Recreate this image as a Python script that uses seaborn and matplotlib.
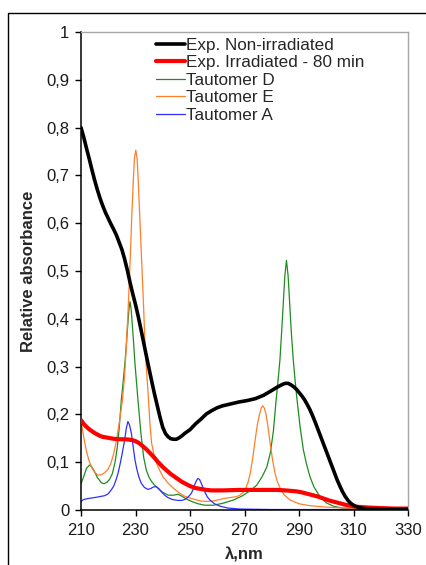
import pandas as pd
import matplotlib
matplotlib.use("Agg")
import matplotlib.pyplot as plt
import seaborn as sns
from matplotlib.patches import Rectangle
from matplotlib.ticker import FuncFormatter

# data (wavelength nm, relative absorbance)
nonirr_x = [210, 211, 212, 213, 214, 215, 216, 217, 218, 219, 220, 221, 222, 223, 224, 225, 226, 227,
            228, 229, 230, 231, 232, 233, 234, 235, 236, 237, 238, 239, 240, 241, 242, 243, 244, 245,
            246, 247, 248, 249, 250, 252, 254, 256, 258, 260, 262, 265, 268, 271, 274, 277, 280, 282,
            284, 285, 286, 287, 288, 289, 290, 291, 292, 293, 294, 295, 296, 297, 298, 299, 300, 301,
            302, 303, 304, 305, 306, 307, 308, 309, 310, 311, 312, 314, 317, 320, 330]
nonirr_y = [0.80, 0.78, 0.757, 0.735, 0.712, 0.69, 0.67, 0.652, 0.636, 0.622, 0.61, 0.598, 0.587, 0.575,
            0.56, 0.545, 0.525, 0.502, 0.476, 0.452, 0.43, 0.405, 0.378, 0.35, 0.322, 0.295, 0.268,
            0.242, 0.218, 0.194, 0.173, 0.16, 0.153, 0.149, 0.148, 0.148, 0.151, 0.155, 0.16, 0.164,
            0.168, 0.18, 0.19, 0.201, 0.208, 0.214, 0.218, 0.222, 0.226, 0.229, 0.233, 0.24, 0.25, 0.257,
            0.263, 0.265, 0.265, 0.262, 0.258, 0.253, 0.246, 0.239, 0.231, 0.221, 0.21, 0.197, 0.183,
            0.168, 0.153, 0.138, 0.123, 0.108, 0.093, 0.078, 0.063, 0.05, 0.038, 0.028, 0.02, 0.014,
            0.01, 0.007, 0.005, 0.003, 0.002, 0.001, 0.001]

irr_x = [210, 211, 212, 213, 214, 215, 216, 217, 218, 220, 222, 224, 226, 228, 229, 230, 231, 232, 233,
         234, 235, 236, 237, 238, 239, 240, 241, 242, 243, 244, 245, 246, 247, 248, 249, 250, 251, 252,
         253, 254, 256, 258, 262, 268, 275, 282, 285, 287, 289, 291, 293, 295, 297, 299, 301, 303, 305,
         307, 309, 311, 313, 316, 320, 325, 330]
irr_y = [0.188, 0.18, 0.174, 0.169, 0.165, 0.161, 0.158, 0.155, 0.153, 0.151, 0.149, 0.148, 0.148, 0.147,
         0.146, 0.144, 0.141, 0.137, 0.132, 0.127, 0.121, 0.115, 0.109, 0.102, 0.096, 0.09, 0.085, 0.08,
         0.075, 0.071, 0.067, 0.063, 0.059, 0.056, 0.053, 0.05, 0.048, 0.046, 0.045, 0.044, 0.042, 0.041,
         0.041, 0.042, 0.042, 0.042, 0.041, 0.04, 0.039, 0.037, 0.034, 0.031, 0.028, 0.024, 0.02, 0.017,
         0.014, 0.011, 0.009, 0.007, 0.006, 0.005, 0.004, 0.003, 0.003]

taut_d_x = [210, 211, 212, 213.1, 214, 215, 216, 217.5, 218.5, 219.5, 220.5, 221.5, 222.5, 223.3, 224,
            224.8, 225.5, 226.1, 226.7, 227.2, 227.6, 228, 228.4, 228.8, 229.3, 229.8, 230.9, 232, 233,
            234, 235, 236, 237, 238.5, 240, 242, 244, 245.6, 247, 249, 251, 253, 255.4, 258.6, 262, 266,
            269, 272, 274.5, 276.5, 278.2, 279.5, 280.6, 281.6, 282.3, 283, 283.6, 284.2, 284.8, 285.4,
            286, 286.6, 287.2, 287.9, 288.5, 289.1, 290.4, 291.6, 292.8, 294, 295.5, 297.7, 300, 302.6,
            306, 310, 320, 330]
taut_d_y = [0.055, 0.07, 0.087, 0.094, 0.09, 0.08, 0.068, 0.057, 0.055, 0.058, 0.064, 0.076, 0.1, 0.13,
            0.17, 0.23, 0.27, 0.307, 0.35, 0.39, 0.42, 0.436, 0.42, 0.39, 0.35, 0.307, 0.23, 0.16, 0.11,
            0.083, 0.068, 0.059, 0.052, 0.044, 0.037, 0.031, 0.031, 0.033, 0.029, 0.022, 0.017, 0.013,
            0.01, 0.01, 0.014, 0.021, 0.029, 0.04, 0.052, 0.07, 0.09, 0.12, 0.165, 0.23, 0.27, 0.314,
            0.37, 0.43, 0.49, 0.522, 0.49, 0.43, 0.37, 0.314, 0.275, 0.24, 0.174, 0.126, 0.095, 0.07,
            0.048, 0.028, 0.015, 0.008, 0.004, 0.003, 0.002, 0.002]

taut_e_x = [210, 211, 212, 213, 214, 215, 216.2, 217.5, 218.7, 219.9, 221, 222, 223, 224.2, 225.2, 226,
            226.5, 227.3, 228, 228.6, 229.2, 229.6, 230.1, 230.6, 231, 231.6, 232.3, 233, 233.6, 234.2,
            234.7, 235.3, 235.9, 237, 238.3, 240, 242, 244, 246, 248, 250.5, 253.7, 256, 258.6, 261,
            262.3, 264.7, 267.2, 268.5, 269.6, 270.5, 271.3, 272.1, 273, 273.9, 274.7, 275.5, 276.1,
            276.7, 277.3, 277.9, 278.6, 279.4, 280.3, 281.2, 282, 283, 284.5, 286.7, 290, 294, 300,
            307.7, 315, 330]
taut_e_y = [0.188, 0.152, 0.123, 0.102, 0.088, 0.079, 0.073, 0.074, 0.078, 0.085, 0.098, 0.118, 0.145,
            0.188, 0.23, 0.28, 0.33, 0.42, 0.516, 0.61, 0.69, 0.735, 0.753, 0.735, 0.69, 0.61, 0.516,
            0.42, 0.33, 0.28, 0.237, 0.18, 0.14, 0.11, 0.09, 0.07, 0.056, 0.045, 0.036, 0.029, 0.024,
            0.019, 0.018, 0.019, 0.022, 0.024, 0.026, 0.028, 0.032, 0.038, 0.046, 0.058, 0.077, 0.108,
            0.146, 0.178, 0.2, 0.213, 0.218, 0.213, 0.2, 0.175, 0.14, 0.105, 0.077, 0.06, 0.047, 0.032,
            0.021, 0.013, 0.009, 0.006, 0.004, 0.003, 0.002]

taut_a_x = [210, 211, 212.6, 216, 218.7, 220, 221.1, 222, 222.8, 223.6, 224.3, 225, 225.6, 226.1, 226.6,
            227.2, 227.8, 228.5, 229.2, 229.8, 230.5, 231.3, 232.1, 233.3, 234.6, 235.6, 236.5, 237.6,
            238.5, 239.5, 240.7, 241.9, 243.5, 245.6, 247, 248.1, 249.3, 250.5, 251.2, 251.8, 252.4,
            252.9, 253.5, 254.2, 254.9, 255.5, 256.3, 257.3, 259, 261, 264, 268.3, 280, 330]
taut_a_y = [0.018, 0.022, 0.024, 0.027, 0.03, 0.034, 0.042, 0.05, 0.062, 0.077, 0.095, 0.115, 0.133,
            0.15, 0.17, 0.185, 0.178, 0.16, 0.13, 0.105, 0.085, 0.068, 0.056, 0.047, 0.043, 0.045, 0.048,
            0.049, 0.045, 0.038, 0.031, 0.026, 0.022, 0.02, 0.02, 0.022, 0.027, 0.035, 0.044, 0.054,
            0.062, 0.066, 0.064, 0.055, 0.045, 0.037, 0.028, 0.021, 0.013, 0.008, 0.004, 0.002, 0.001,
            0.001]

sns.set_style("white")
plt.rcParams['font.family'] = ['Liberation Sans', 'DejaVu Sans']

W, H = 426, 565
fig = plt.figure(figsize=(W / 100, H / 100), dpi=100)
ax = fig.add_axes([81 / W, 1 - 510 / H, (408 - 81) / W, (510 - 32) / H])

# outer frame of the picture
fig.patches.append(Rectangle((8 / W, -0.2), 1.2, 1.2 - 13 / H, transform=fig.transFigure,
                             fill=False, edgecolor='black', lw=1.0))

thin = 0.9
sns.lineplot(x=taut_d_x, y=taut_d_y, ax=ax, color='#1f8c1f', lw=thin, label='Tautomer D', zorder=2, sort=False)
sns.lineplot(x=taut_e_x, y=taut_e_y, ax=ax, color='#ff7f2a', lw=thin, label='Tautomer E', zorder=2, sort=False)
sns.lineplot(x=taut_a_x, y=taut_a_y, ax=ax, color='#2f2fff', lw=thin, label='Tautomer A', zorder=2, sort=False)
sns.lineplot(x=irr_x, y=irr_y, ax=ax, color='#ff0000', lw=3.0, label='Exp. Irradiated - 80 min', zorder=3, sort=False)
sns.lineplot(x=nonirr_x, y=nonirr_y, ax=ax, color='black', lw=2.6, label='Exp. Non-irradiated', zorder=4, sort=False)

ax.set_xlim(210, 330)
ax.set_ylim(0, 1)
ax.set_xticks(range(210, 331, 20))
ax.set_yticks([i / 10 for i in range(11)])
ax.yaxis.set_major_formatter(FuncFormatter(lambda v, p: ('%g' % round(v, 1)).replace('.', ',')))
ax.tick_params(axis='both', direction='out', length=4.5, width=1, color='black',
               labelsize=12, labelcolor='#1a1a1a', left=True, bottom=True)
ax.tick_params(axis='y', pad=4)
ax.tick_params(axis='x', pad=5)

for side in ['left', 'bottom']:
    ax.spines[side].set_color('black')
    ax.spines[side].set_linewidth(1.1)
for side in ['top', 'right']:
    ax.spines[side].set_color('#a6a6a6')
    ax.spines[side].set_linewidth(1.0)

ax.set_xlabel('λ,nm', fontsize=12, fontweight='bold', labelpad=7)
ax.set_ylabel('Relative absorbance', fontsize=12, fontweight='bold', labelpad=7)

handles, labels = ax.get_legend_handles_labels()
order = [4, 3, 0, 1, 2]
ax.legend([handles[i] for i in order], [labels[i] for i in order],
          loc='upper left', bbox_to_anchor=((156 - 81) / (408 - 81), 1 - (38 - 32) / (510 - 32)),
          frameon=False, fontsize=12.3, handlelength=1.7, handletextpad=0.05,
          labelspacing=0.14, borderpad=0, borderaxespad=0, labelcolor='#262626')

fig.savefig('out.png', dpi=100)
